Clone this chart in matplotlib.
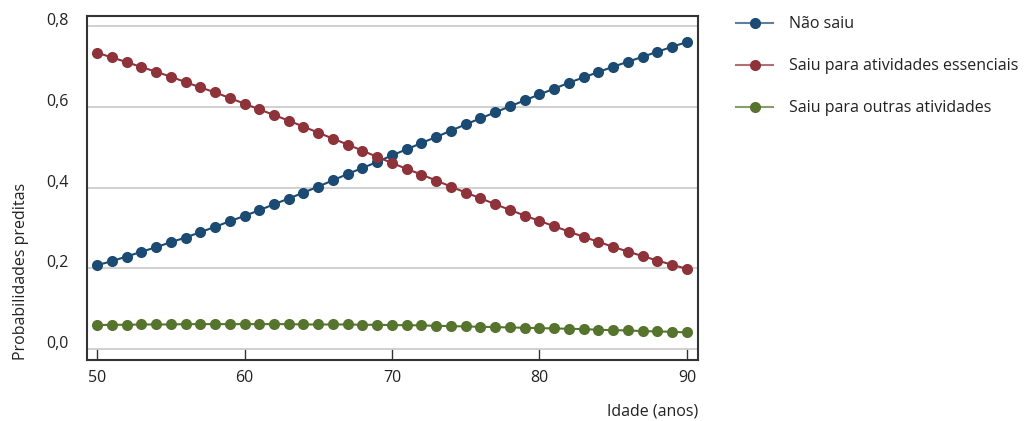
import matplotlib
matplotlib.use("Agg")
import matplotlib.pyplot as plt
import matplotlib.transforms as mtransforms
from matplotlib.lines import Line2D
from matplotlib.colors import to_rgba

plt.rcParams['font.family'] = ['Open Sans', 'DejaVu Sans']

idade = list(range(50, 91))
nao_saiu = [0.2078, 0.2177, 0.2293, 0.2408, 0.2524, 0.2647, 0.2763, 0.2895, 0.3027, 0.3167,
            0.3299, 0.3439, 0.3588, 0.3728, 0.3876, 0.4025, 0.4181, 0.4338, 0.4487, 0.4635,
            0.4800, 0.4948, 0.5105, 0.5254, 0.5410, 0.5567, 0.5715, 0.5864, 0.6012, 0.6161,
            0.6309, 0.6449, 0.6598, 0.6730, 0.6862, 0.6994, 0.7117, 0.7241, 0.7365, 0.7489,
            0.7604]
essenciais = [0.7340, 0.7225, 0.7109, 0.6986, 0.6870, 0.6746, 0.6614, 0.6482, 0.6359, 0.6219,
              0.6078, 0.5938, 0.5798, 0.5658, 0.5509, 0.5361, 0.5212, 0.5064, 0.4915, 0.4759,
              0.4610, 0.4462, 0.4322, 0.4173, 0.4025, 0.3876, 0.3736, 0.3588, 0.3447, 0.3307,
              0.3175, 0.3043, 0.2911, 0.2779, 0.2656, 0.2532, 0.2416, 0.2301, 0.2194, 0.2087,
              0.1988]
outras = [0.0594, 0.0602, 0.0602, 0.0610, 0.0610, 0.0610, 0.0619, 0.0619, 0.0619, 0.0619,
          0.0619, 0.0619, 0.0619, 0.0619, 0.0610, 0.0610, 0.0610, 0.0610, 0.0602, 0.0602,
          0.0594, 0.0594, 0.0586, 0.0578, 0.0569, 0.0561, 0.0553, 0.0545, 0.0536, 0.0528,
          0.0520, 0.0511, 0.0503, 0.0495, 0.0478, 0.0470, 0.0462, 0.0445, 0.0437, 0.0429,
          0.0412]

series = [("Não saiu", nao_saiu, "#1b4a72"),
          ("Saiu para atividades essenciais", essenciais, "#8f333b"),
          ("Saiu para outras atividades", outras, "#56742e")]

yticks = [0.0, 0.2, 0.4, 0.6, 0.8]
ytick_labels = ["0,0", "0,2", "0,4", "0,6", "0,8"]
xticks = [50, 60, 70, 80, 90]

FS = 11.5
fig = plt.figure(figsize=(10.29, 4.21), dpi=100)
ax = fig.add_axes([87/1029, 1 - 360/421, (698-87)/1029, (360-16)/421])

for name, vals, col in series:
    ax.plot(idade, vals, color=col, lw=1.5, marker='o', markersize=8,
            markeredgewidth=0, zorder=3)

ax.set_xlim(49.32, 90.75)
ax.set_ylim(-0.027, 0.825)
ax.set_yticks(yticks)
ax.set_yticklabels(ytick_labels)
ax.set_xticks(xticks)
ax.grid(axis='y', color='#c8c8c8', lw=1.2, zorder=0)
ax.tick_params(axis='y', length=0, labelsize=FS, pad=13, labelcolor='#222222')
ax.tick_params(axis='x', direction='in', length=8, width=1, color='#333333',
               labelsize=FS, pad=7, labelcolor='#222222')
offset = mtransforms.ScaledTranslation(0, 7/100, fig.dpi_scale_trans)
for lbl in ax.get_yticklabels():
    lbl.set_transform(lbl.get_transform() + offset)
for sp in ax.spines.values():
    sp.set_color('#333333')
    sp.set_linewidth(1.5)

ax.set_xlabel("Idade (anos)", fontsize=FS, color='#222222', ha='right')
ax.xaxis.set_label_coords(1.0, -0.125)
ax.set_ylabel("Probabilidades preditas", loc='bottom', fontsize=FS, labelpad=13, color='#222222')

handles = [Line2D([0], [0], color=to_rgba(col, 0.7), lw=1.5, marker='o', markersize=8,
                  markeredgewidth=0, markerfacecolor=col, markeredgecolor=col)
           for _, _, col in series]
leg = fig.legend(handles, [s[0] for s in series], loc='upper left',
                 bbox_to_anchor=(722/1029, 1 - 2/421), frameon=False, fontsize=FS,
                 handlelength=2.3, handletextpad=1.0, labelspacing=1.62)
for t in leg.get_texts():
    t.set_color('#222222')

fig.savefig("out.png", dpi=100)
